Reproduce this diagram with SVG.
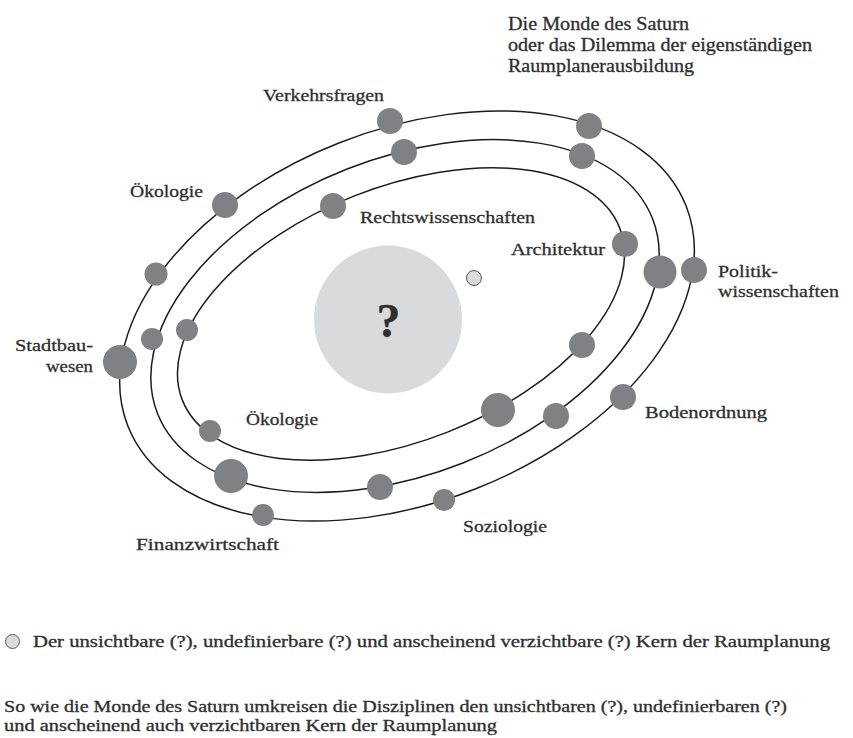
<svg xmlns="http://www.w3.org/2000/svg" width="853" height="738" viewBox="0 0 853 738">
<style>
  .t { font-family: "Liberation Serif", "Times New Roman", serif; fill: #2f2f2f; stroke: #2f2f2f; stroke-width: 0.3; }
  .lbl { font-size: 17.5px; }
  .ttl { font-size: 18px; }
  .body { font-size: 16px; }
  .orbit { fill: none; stroke: #1c1c1c; stroke-width: 1.5; }
  .moon { fill: #808184; }
  .core { fill: #d9dadc; }
  .dot { fill: #d9dadc; stroke: #555; stroke-width: 1; }
</style>
<rect width="853" height="738" fill="#ffffff"/>

<g id="title">
  <text class="t ttl" x="508" y="29.5" textLength="181" lengthAdjust="spacingAndGlyphs">Die Monde des Saturn</text>
  <text class="t ttl" x="508" y="51" textLength="304" lengthAdjust="spacingAndGlyphs">oder das Dilemma der eigenständigen</text>
  <text class="t ttl" x="508" y="72" textLength="186" lengthAdjust="spacingAndGlyphs">Raumplanerausbildung</text>
</g>

<g id="core">
  <circle class="core" cx="388" cy="319.5" r="74"/>
  <text class="t" x="388.5" y="337" font-size="48" font-weight="bold" text-anchor="middle" stroke-width="0">?</text>
</g>
<g id="hidden-core">
  <circle class="dot" cx="474" cy="278" r="7.5"/>
</g>

<g id="orbits">
  <ellipse class="orbit" cx="407" cy="316" rx="300" ry="186" transform="rotate(-21.5 407 316)"/>
  <ellipse class="orbit" cx="405" cy="316" rx="266" ry="158" transform="rotate(-21.5 405 316)"/>
  <ellipse class="orbit" cx="401" cy="314" rx="235" ry="127" transform="rotate(-21.5 401 314)"/>
</g>

<g id="n-verkehrsfragen">
  <circle class="moon" cx="390" cy="121" r="13"/>
  <text class="t lbl" x="263" y="100.5" textLength="121" lengthAdjust="spacingAndGlyphs">Verkehrsfragen</text>
</g>
<g id="n-oekologie-1">
  <circle class="moon" cx="225" cy="205" r="13"/>
  <text class="t lbl" x="130" y="197" textLength="73" lengthAdjust="spacingAndGlyphs">Ökologie</text>
</g>
<g id="n-rechtswissenschaften">
  <circle class="moon" cx="333" cy="206" r="13"/>
  <text class="t lbl" x="360" y="223" textLength="175" lengthAdjust="spacingAndGlyphs">Rechtswissenschaften</text>
</g>
<g id="n-architektur">
  <circle class="moon" cx="625" cy="244" r="13"/>
  <text class="t lbl" x="511" y="255" textLength="94" lengthAdjust="spacingAndGlyphs">Architektur</text>
</g>
<g id="n-politikwissenschaften">
  <circle class="moon" cx="694" cy="270" r="13"/>
  <text class="t lbl" x="718" y="277" textLength="60" lengthAdjust="spacingAndGlyphs">Politik-</text>
  <text class="t lbl" x="718" y="297" textLength="121" lengthAdjust="spacingAndGlyphs">wissenschaften</text>
</g>
<g id="n-stadtbauwesen">
  <circle class="moon" cx="120" cy="362" r="17"/>
  <text class="t lbl" x="15" y="351" textLength="78" lengthAdjust="spacingAndGlyphs">Stadtbau-</text>
  <text class="t lbl" x="46" y="372" textLength="47" lengthAdjust="spacingAndGlyphs">wesen</text>
</g>
<g id="n-oekologie-2">
  <circle class="moon" cx="210" cy="431" r="11"/>
  <text class="t lbl" x="246" y="425" textLength="72" lengthAdjust="spacingAndGlyphs">Ökologie</text>
</g>
<g id="n-finanzwirtschaft">
  <circle class="moon" cx="263" cy="515" r="11"/>
  <text class="t lbl" x="136" y="550" textLength="143" lengthAdjust="spacingAndGlyphs">Finanzwirtschaft</text>
</g>
<g id="n-bodenordnung">
  <circle class="moon" cx="623" cy="397" r="13"/>
  <text class="t lbl" x="645" y="418" textLength="122" lengthAdjust="spacingAndGlyphs">Bodenordnung</text>
</g>
<g id="n-soziologie">
  <circle class="moon" cx="444" cy="500" r="11"/>
  <text class="t lbl" x="463" y="532" textLength="84" lengthAdjust="spacingAndGlyphs">Soziologie</text>
</g>

<g id="moons">
  <circle class="moon" cx="589" cy="126" r="13"/>
  <circle class="moon" cx="156" cy="274" r="11.5"/>
  <circle class="moon" cx="404" cy="152" r="13"/>
  <circle class="moon" cx="582" cy="156" r="13"/>
  <circle class="moon" cx="660" cy="272" r="16.5"/>
  <circle class="moon" cx="556" cy="416" r="13"/>
  <circle class="moon" cx="380" cy="487" r="13"/>
  <circle class="moon" cx="231" cy="476" r="17"/>
  <circle class="moon" cx="152" cy="339" r="11"/>
  <circle class="moon" cx="582" cy="345" r="13"/>
  <circle class="moon" cx="498" cy="410" r="17"/>
  <circle class="moon" cx="187" cy="330" r="11"/>
</g>

<g id="legend">
  <circle class="dot" cx="12.5" cy="641.5" r="7"/>
  <text class="t body" x="33" y="647" textLength="797" lengthAdjust="spacingAndGlyphs">Der unsichtbare (?), undefinierbare (?) und anscheinend verzichtbare (?) Kern der Raumplanung</text>
</g>

<g id="caption">
  <text class="t body" x="4" y="712" textLength="783" lengthAdjust="spacingAndGlyphs">So wie die Monde des Saturn umkreisen die Disziplinen den unsichtbaren (?), undefinierbaren (?)</text>
  <text class="t body" x="4" y="731" textLength="493" lengthAdjust="spacingAndGlyphs">und anscheinend auch verzichtbaren Kern der Raumplanung</text>
</g>
</svg>
